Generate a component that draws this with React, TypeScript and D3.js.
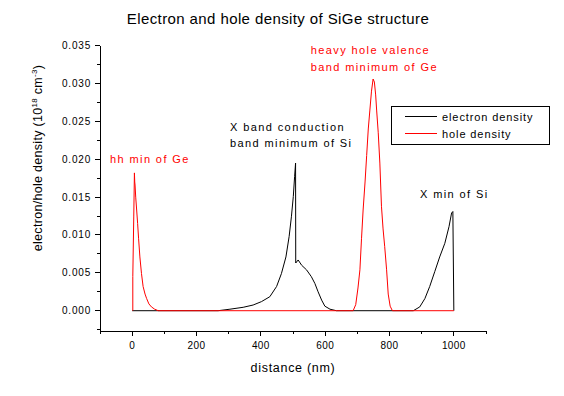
import * as d3 from "d3";

// distance (nm) and density (1e18 cm^-3)
const electronX = [0, 267, 304, 345, 376, 402, 428, 449, 464, 478, 488, 495, 501, 505, 508, 508.5, 516, 527, 542, 557, 568, 578, 589, 599, 615, 635, 874, 894, 910, 925, 941, 956, 972, 985, 993, 997, 1000];
const electronY = [0, 0, 0.0002, 0.00045, 0.00075, 0.0012, 0.00185, 0.0032, 0.0049, 0.0071, 0.0098, 0.0124, 0.0151, 0.0177, 0.0195, 0.0063, 0.0067, 0.006, 0.0054, 0.0045, 0.0036, 0.0025, 0.0014, 0.0006, 0.0002, 0, 0, 0.0005, 0.0016, 0.0032, 0.0052, 0.0071, 0.0089, 0.0111, 0.0129, 0.0131, 0];

const holeX = [2, 2, 5, 7, 8, 9, 11, 14, 17, 20, 24, 29, 34, 40, 45, 52, 60, 70, 81, 687, 695, 702, 708, 713, 718, 724, 729, 734, 739, 744, 749, 753, 757, 760, 765, 770, 775, 780, 785, 791, 796, 802, 809, 1000];
const holeY = [0, 0.0045, 0.0125, 0.0182, 0.017, 0.0166, 0.015, 0.0133, 0.0115, 0.0095, 0.0071, 0.0049, 0.0032, 0.0022, 0.0016, 0.0009, 0.0005, 0.0002, 0, 0, 0.0008, 0.003, 0.0054, 0.0095, 0.0133, 0.017, 0.0205, 0.024, 0.0265, 0.029, 0.0306, 0.0302, 0.0285, 0.0265, 0.0235, 0.0195, 0.0138, 0.0108, 0.0085, 0.0054, 0.0022, 0.0006, 0, 0];

const xMajor = [0, 200, 400, 600, 800, 1000];
const xMinor = [-100, 100, 300, 500, 700, 900, 1100];
const yMajor = [0, 0.005, 0.01, 0.015, 0.02, 0.025, 0.03, 0.035];
const yMinor = [-0.0025, 0.0025, 0.0075, 0.0125, 0.0175, 0.0225, 0.0275, 0.0325];

const FONT = "'Liberation Sans', Arial, sans-serif";
const RED = "#ff0000";

export default function App() {
  const width = 564;
  const height = 396;

  const x = d3.scaleLinear().domain([-100, 1100]).range([100, 486]);
  const y = d3.scaleLinear().domain([-0.00268, 0.035]).range([331, 45.7]);

  const path = (xs: number[], ys: number[]) =>
    d3
      .line<number>()
      .x((d) => x(d))
      .y((_, i) => y(ys[i]))(xs) || "";

  const x0 = x.range()[0];
  const yBottom = y.range()[0];

  return (
    <svg
      width={width}
      height={height}
      style={{ position: "absolute", left: 0, top: 0, background: "#fff" }}
      fontFamily={FONT}
    >
      <rect width={width} height={height} fill="#fff" />

      {/* title */}
      <text x={278} y={24} fontSize={15} textAnchor="middle" letterSpacing={0.4}>
        Electron and hole density of SiGe structure
      </text>

      {/* data, electrons first so holes sit on top */}
      <path d={path(electronX, electronY)} fill="none" stroke="#000" strokeWidth={1} />
      <path d={path(holeX, holeY)} fill="none" stroke={RED} strokeWidth={1} />

      {/* axes */}
      <g shapeRendering="crispEdges" stroke="#000">
        <line x1={x0} x2={x.range()[1]} y1={yBottom} y2={yBottom} />
        <line x1={x0} x2={x0} y1={yBottom} y2={y(0.035)} />
        {xMajor.map((t) => (
          <line key={"xM" + t} x1={x(t)} x2={x(t)} y1={yBottom} y2={yBottom + 5} />
        ))}
        {xMinor.map((t) => (
          <line key={"xm" + t} x1={x(t)} x2={x(t)} y1={yBottom} y2={yBottom + 3} />
        ))}
        {yMajor.map((t) => (
          <line key={"yM" + t} x1={x0 - 5} x2={x0} y1={y(t)} y2={y(t)} />
        ))}
        {yMinor.map((t) => (
          <line key={"ym" + t} x1={x0 - 3} x2={x0} y1={y(t)} y2={y(t)} />
        ))}
      </g>

      {xMajor.map((t) => (
        <text key={"xl" + t} x={x(t)} y={349} fontSize={10} textAnchor="middle" letterSpacing={0.4}>
          {t}
        </text>
      ))}
      {yMajor.map((t) => (
        <text key={"yl" + t} x={91} y={y(t) + 3.5} fontSize={10} textAnchor="end" letterSpacing={0.8}>
          {d3.format(".3f")(t)}
        </text>
      ))}

      <text x={293} y={372} fontSize={12.5} textAnchor="middle" letterSpacing={0.7}>
        distance (nm)
      </text>
      <text transform="translate(42,158) rotate(-90)" fontSize={12.5} textAnchor="middle" letterSpacing={0.3}>
        electron/hole density (10
        <tspan fontSize={8} dy={-5}>18</tspan>
        <tspan dy={5}> cm</tspan>
        <tspan fontSize={8} dy={-5}>-3</tspan>
        <tspan dy={5}>)</tspan>
      </text>

      {/* annotations */}
      <g fontSize={11} letterSpacing={1.4}>
        <text x={110} y={162.5} fill={RED}>hh min of Ge</text>
        <text x={230} y={130.7}>X band conduction</text>
        <text x={230} y={146.7}>band minimum of Si</text>
        <text x={310.7} y={54} fill={RED}>heavy hole valence</text>
        <text x={310.7} y={70.7} fill={RED}>band minimum of Ge</text>
        <text x={420} y={198.3}>X min of Si</text>
      </g>

      {/* legend */}
      <g>
        <rect x={391.5} y={106.5} width={158} height={38} fill="#fff" stroke="#000" shapeRendering="crispEdges" />
        <line x1={405} x2={437} y1={116.5} y2={116.5} stroke="#000" shapeRendering="crispEdges" />
        <line x1={405} x2={437} y1={133.5} y2={133.5} stroke={RED} shapeRendering="crispEdges" />
        <text x={442} y={121} fontSize={11} letterSpacing={0.9}>electron density</text>
        <text x={442} y={137.5} fontSize={11} letterSpacing={0.9}>hole density</text>
      </g>
    </svg>
  );
}
